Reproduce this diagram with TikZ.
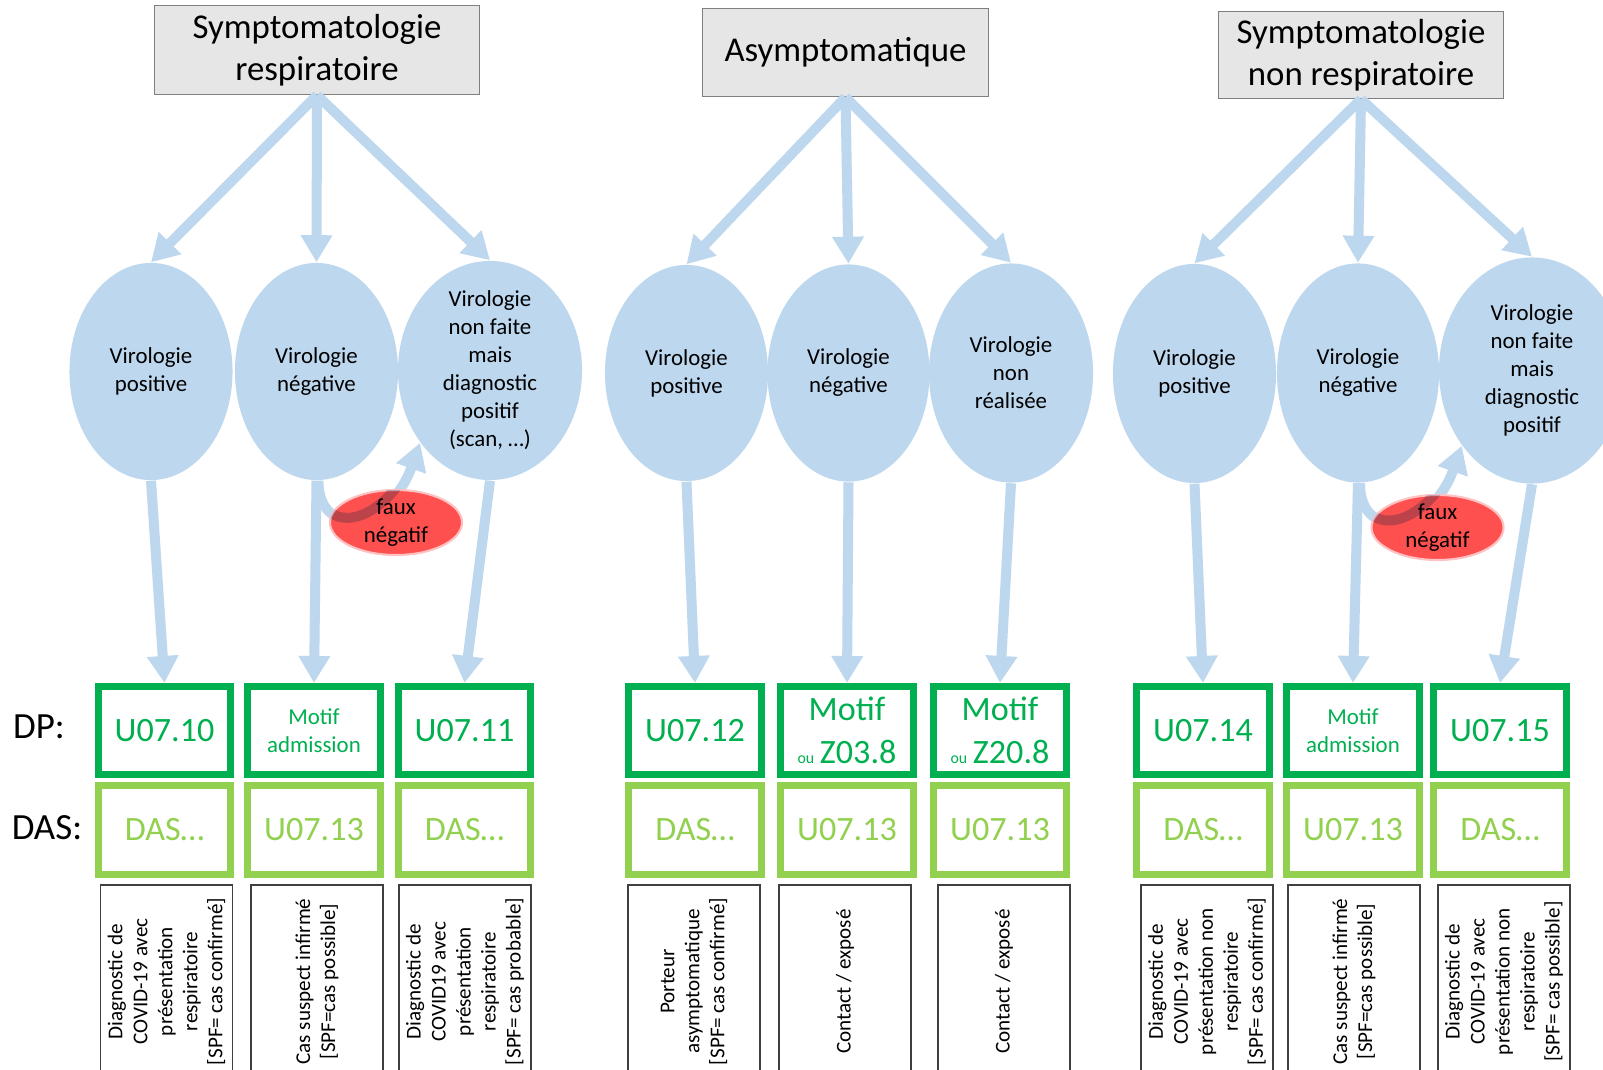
\documentclass[tikz,border=0pt]{standalone}
\usepackage{fontspec}
\setmainfont{Carlito}
\usetikzlibrary{arrows.meta,shapes,positioning}

\definecolor{viroblue}{HTML}{BDD7EE}
\definecolor{dpgreen}{HTML}{00B050}
\definecolor{dasgreen}{HTML}{92D050}
\definecolor{fauxred}{HTML}{FF5050}
\definecolor{titlegray}{HTML}{E6E6E6}

\newcommand\fnttitle{\fontsize{9.9}{12}\selectfont}
\newcommand\fntviro{\fontsize{6.5}{7.95}\selectfont}
\newcommand\fntcode{\fontsize{9.7}{12.2}\selectfont}
\newcommand\fntmotif{\fontsize{6.5}{7.85}\selectfont}
\newcommand\fntou{\fontsize{4.5}{5}\selectfont}
\newcommand\fntnote{\fontsize{6}{7.1}\selectfont}
\newcommand\fntrow{\fontsize{10.5}{12}\selectfont}

\tikzset{
  basic/.style    = {align=center, inner sep=0pt},
  titlebox/.style = {basic, rectangle, draw=gray, fill=titlegray, font=\fnttitle},
  viro/.style     = {basic, ellipse, fill=viroblue, inner sep=-2mm, font=\fntviro},
  faux/.style     = {basic, ellipse, fill=fauxred, draw=fauxred!35!white, line width=0.6pt,
                     inner sep=-1mm, minimum width=1.32cm, minimum height=0.65cm, font=\fntviro},
  dpbox/.style    = {basic, rectangle, draw=dpgreen, line width=0.07cm, text=dpgreen,
                     minimum width=1.32cm, minimum height=0.88cm},
  dasbox/.style   = {dpbox, draw=dasgreen, text=dasgreen, font=\fntcode},
  notebox/.style  = {basic, rectangle, draw=black!75, line width=0.5pt, rotate=90,
                     minimum width=1.93cm, minimum height=1.32cm, font=\fntnote},
  flow/.style     = {draw=viroblue, line width=0.1cm, -{Triangle[length=0.27cm, width=0.3cm]}}
}

\begin{document}
\begin{tikzpicture}[x=0.01cm, y=-0.01cm]

\useasboundingbox (0,0) rectangle (1603,1070);
\clip (0,0) rectangle (1603,1070);
\fill[white] (0,0) rectangle (1603,1070);

%\draw[help lines, color=gray!30, dashed] (0,0) grid[step=100] (1603,1070);

\node[titlebox, minimum width=3.25cm, minimum height=0.89cm] at (317,50) (resp) {Symptomatologie\\respiratoire};
\node[titlebox, minimum width=2.86cm, minimum height=0.88cm] at (845.5,52.5) (asympt) {Asymptomatique};
\node[titlebox, minimum width=2.85cm, minimum height=0.87cm] at (1361,55) (nonresp) {Symptomatologie\\non respiratoire};

\foreach \xc/\yc/\w/\h/\txt [count=\i] in {
    151/371.5/1.63/2.17/{Virologie\\positive},
    316.5/371.5/1.63/2.17/{Virologie\\négative},
    490/370.5/1.84/2.19/{Virologie\\non faite\\mais\\diagnostic\\positif\\(scan, …)},
    686.5/373/1.63/2.16/{Virologie\\positive},
    848.5/373/1.62/2.17/{Virologie\\négative},
    1011/373/1.64/2.19/{Virologie\\non\\réalisée},
    1194.5/373.5/1.63/2.19/{Virologie\\positive},
    1358/373/1.62/2.19/{Virologie\\négative},
    1532/370.5/1.86/2.26/{Virologie\\non faite\\mais\\diagnostic\\positif}}{
    \node[viro, minimum width=\w cm, minimum height=\h cm] at (\xc,\yc) (v\i) {\txt};
    }

\foreach \v in {1,2,3}{
    \draw[flow] (resp.south) -- (v\v.north);
    }
\foreach \v in {4,5,6}{
    \draw[flow] (asympt.south) -- (v\v.north);
    }
\foreach \v in {7,8,9}{
    \draw[flow] (nonresp.south) -- (v\v.north);
    }

\node[dpbox, font=\fntrow, draw=none, text=black] at (39,727) (dplabel) {DP:};
\node[dpbox, font=\fntrow, draw=none, text=black] at (47,828) (daslabel) {DAS:};

\foreach \xc/\fnt/\code/\das [count=\i] in {
    164.5/\fntcode/U07.10/DAS…,
    314/\fntmotif/{Motif\\admission}/U07.13,
    464.5/\fntcode/U07.11/DAS…,
    695/\fntcode/U07.12/DAS…,
    847/\fntcode/{Motif\\{\fntou ou}\,Z03.8}/U07.13,
    1000/\fntcode/{Motif\\{\fntou ou}\,Z20.8}/U07.13,
    1203/\fntcode/U07.14/DAS…,
    1353/\fntmotif/{Motif\\admission}/U07.13,
    1500/\fntcode/U07.15/DAS…}{
    \node[dpbox, font=\fnt] at (\xc,730.5) (dp\i) {\code};
    \node[dasbox] at (\xc,830) (das\i) {\das};
    \draw[flow] (v\i.south) -- (dp\i.north);
    }

\foreach \xc/\txt [count=\i] in {
    166.5/{Diagnostic de\\COVID-19 avec\\présentation\\respiratoire\\{}[SPF= cas confirmé]},
    317/{Cas suspect infirmé\\{}[SPF=cas possible]},
    465/{Diagnostic de\\COVID19 avec\\présentation\\respiratoire\\{}[SPF= cas probable]},
    694/{Porteur\\asymptomatique\\{}[SPF= cas confirmé]},
    845/{Contact / exposé},
    1004/{Contact / exposé},
    1207/{Diagnostic de\\COVID-19 avec\\présentation non\\respiratoire\\{}[SPF= cas confirmé]},
    1354/{Cas suspect infirmé\\{}[SPF=cas possible]},
    1504/{Diagnostic de\\COVID-19 avec\\présentation non\\respiratoire\\{}[SPF= cas possible]}}{
    \node[notebox] at (\xc,981.5) (note\i) {\txt};
    }

% faux negatif: arc, red ellipse, arc seen through the ellipse
\foreach \a/\b/\f/\xc/\yc/\ang in {2/3/1/396/522.5/226, 8/9/2/1437.5/527.5/227}{
    \draw[flow] (v\a.-89) .. controls +(0,60) and +(-30,85) .. (v\b.\ang);
    \node[faux] at (\xc,\yc) (faux\f) {faux\\négatif};
    \begin{scope}
      \clip (faux\f.center) ellipse [x radius=0.66cm, y radius=0.325cm];
      \draw[flow, -, blend mode=multiply] (v\a.-89) .. controls +(0,60) and +(-30,85) .. (v\b.\ang);
    \end{scope}
    }

\end{tikzpicture}
\end{document}
